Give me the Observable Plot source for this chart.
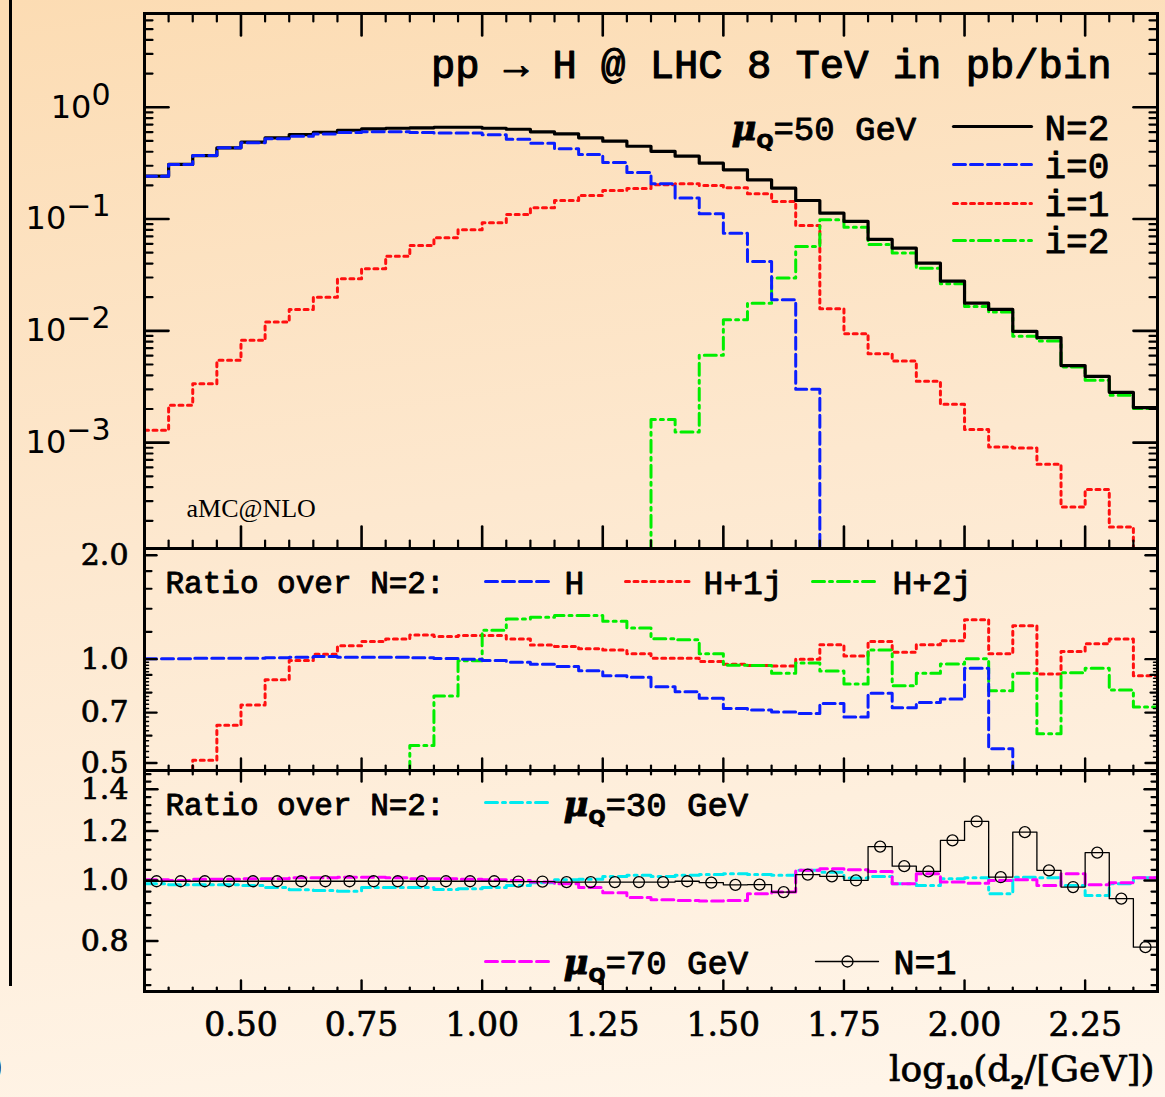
<!DOCTYPE html>
<html><head><meta charset="utf-8">
<script src="https://cdn.jsdelivr.net/npm/d3@7"></script>
<script src="https://cdn.jsdelivr.net/npm/@observablehq/plot@0.6"></script>
<style>
html,body{margin:0;padding:0;background:#fff6ea;}
#chart{position:relative;width:1165px;height:1097px;overflow:hidden;
 background: linear-gradient(172deg, #fcdcb3 0%, #fde8cf 45%, #fff6eb 100%);}
#chart svg{position:absolute;left:0;overflow:visible;}
.leftstrip{position:absolute;left:0;top:0;width:9px;height:986px;border-right:3px solid #000;}
.paren{position:absolute;left:-10px;top:1046px;font:34px "DejaVu Serif";color:#000;}
</style></head><body><div id="chart"><div class="leftstrip"></div><div class="paren">)</div></div>
<script>
// ---------- data ----------
const binEdges = [0.30,0.35,0.40,0.45,0.50,0.55,0.60,0.65,0.70,0.75,0.80,0.85,0.90,0.95,1.00,1.05,1.10,1.15,1.20,1.25,1.30,1.35,1.40,1.45,1.50,1.55,1.60,1.65,1.70,1.75,1.80,1.85,1.90,1.95,2.00,2.05,2.10,2.15,2.20,2.25,2.30,2.35,2.40];

// top panel: pb/bin (values 1e-6 = below the plotted range)
const n2 = [0.242,0.308,0.370,0.434,0.487,0.533,0.570,0.598,0.623,0.641,0.649,0.655,0.663,0.663,0.649,0.636,0.603,0.578,0.533,0.497,0.448,0.404,0.365,0.316,0.276,0.2245,0.189,0.1466,0.1129,0.0952,0.0657,0.0549,0.0403,0.0279,0.0177,0.01556,0.0099,0.0087,0.00489,0.00392,0.00282,0.00206];
const i0 = [0.242,0.308,0.370,0.434,0.481,0.522,0.551,0.578,0.594,0.603,0.603,0.594,0.590,0.590,0.567,0.518,0.477,0.425,0.378,0.320,0.261,0.207,0.154,0.1115,0.0748,0.0418,0.0190,0.0030,1e-6,null,null,null,null,null,null,null,null,null,null,null,null,null];
const i1 = [0.00129,0.00216,0.00337,0.00545,0.00823,0.0120,0.01556,0.0200,0.0293,0.0360,0.0466,0.0581,0.0681,0.0802,0.0927,0.1099,0.1262,0.1466,0.1625,0.1802,0.1877,0.2025,0.2067,0.1996,0.1904,0.1683,0.1437,0.0877,0.0158,0.00944,0.00625,0.00537,0.00354,0.0022,0.00131,0.000915,0.000897,0.000641,0.000266,0.000381,0.000176,1e-6];
const i2 = [null,null,null,null,null,null,null,null,null,null,null,null,null,null,null,null,null,null,null,null,1e-6,0.00161,0.001246,0.00604,0.0126,0.0177,0.02964,0.0569,0.0986,0.0847,0.0593,0.0496,0.0364,0.0264,0.01655,0.01472,0.00893,0.0081,0.00475,0.00361,0.00265,0.00202];

// middle panel: ratio over N=2 (0.01 = below the plotted range)
const ratioH   = [1.002,1.002,1.007,1.007,1.007,1.009,1.013,1.018,1.013,1.013,1.013,1.009,1.004,1.000,0.991,0.980,0.967,0.952,0.926,0.896,0.886,0.832,0.805,0.770,0.720,0.712,0.703,0.696,0.744,0.680,0.796,0.723,0.749,0.766,0.941,0.550,0.01,null,null,null,null,null];
const ratioH1j = [null,0.01,0.509,0.643,0.736,0.871,0.991,1.034,1.093,1.125,1.144,1.175,1.164,1.172,1.172,1.144,1.099,1.088,1.072,1.064,1.036,1.007,1.007,0.984,0.967,0.958,0.956,1.000,1.101,1.022,1.125,1.048,1.101,1.131,1.302,1.036,1.250,0.906,1.052,1.108,1.144,0.896];
const ratioH2j = [null,null,null,null,null,null,null,null,null,null,0.01,0.5625,0.782,0.989,1.212,1.308,1.323,1.338,1.338,1.287,1.232,1.146,1.138,1.036,0.961,0.958,0.910,0.974,0.924,0.847,1.064,0.838,0.910,0.969,1.002,0.810,0.910,0.608,0.914,0.941,0.814,0.727];

// bottom panel: ratio over N=2
const muQ30 = [0.988,0.984,0.984,0.984,0.982,0.974,0.966,0.964,0.961,0.974,0.974,0.974,0.967,0.970,0.974,0.982,0.992,1.003,1.004,1.015,1.019,1.015,1.019,1.022,1.025,1.022,1.019,1.038,1.031,1.009,1.015,0.988,0.982,1.006,1.010,0.952,1.012,1.010,0.982,0.946,0.988,1.010];
const muQ70 = [1.003,1.000,1.004,1.004,1.006,1.006,1.010,1.010,1.012,1.012,1.010,1.006,1.006,1.004,1.003,1.000,0.994,0.988,0.974,0.956,0.939,0.931,0.929,0.927,0.929,0.952,0.958,1.038,1.044,1.040,1.034,0.988,1.025,0.994,0.990,1.000,1.003,0.982,1.025,0.984,0.992,1.010];
const n1 = [0.997,0.997,0.997,0.997,0.997,0.997,0.997,0.997,0.997,0.997,0.997,0.997,0.997,0.997,0.997,0.996,0.996,0.994,0.994,0.994,0.994,0.994,0.997,0.992,0.984,0.985,0.958,1.022,1.015,1.000,1.133,1.054,1.034,1.159,1.243,1.012,1.195,1.038,0.976,1.108,0.935,0.782];

// ticks and labels
const xMajor = [0.50,0.75,1.00,1.25,1.50,1.75,2.00,2.25];
const xMajorLabels = ["0.50","0.75","1.00","1.25","1.50","1.75","2.00","2.25"];
const xMinor = [0.35,0.40,0.45,0.55,0.60,0.65,0.70,0.80,0.85,0.90,0.95,1.05,1.10,1.15,1.20,1.30,1.35,1.40,1.45,1.55,1.60,1.65,1.70,1.80,1.85,1.90,1.95,2.05,2.10,2.15,2.20,2.30,2.35];
const topYMajor = [1, 0.1, 0.01, 0.001];
const topYLabels = ["10{^0}","10{^−1}","10{^−2}","10{^−3}"];
const topDecades = [1e-4,1e-3,1e-2,1e-1,1];
const logMinorMult = [2,3,4,5,6,7,8,9];
const midYMajor = [2.0,1.0,0.7,0.5];
const midYLabels = ["2.0","1.0","0.7","0.5"];
const midYMedium = [1.8,1.6,1.4,1.2,0.9,0.8,0.6];
const midYTiny = [0.52,0.54,0.56,0.58,0.62,0.64,0.66,0.68,0.72,0.74,0.76,0.78,0.82,0.84,0.86,0.88,0.92,0.94,0.96,0.98];
const botYMajor = [1.4,1.2,1.0,0.8];
const botYLabels = ["1.4","1.2","1.0","0.8"];
const botYMinor = [0.68,0.72,0.76,0.84,0.88,0.92,0.96,1.04,1.08,1.12,1.16,1.24,1.28,1.32,1.36,1.44,1.48];

const topDomain = [1.13e-4, 6.9];
const midDomain = [0.4757, 2.093];
const botDomain = [0.664, 1.50];

// ---------- helpers ----------
const topYMinor = topDecades.flatMap(d => logMinorMult.map(m => d*m)).filter(v => v > topDomain[0] && v < topDomain[1]);
const steps = vals => binEdges.map((x, i) => ({x, y: i < vals.length ? vals[i] : vals[vals.length-1]}));
const centers = vals => vals.map((v, i) => ({x: (binEdges[i]+binEdges[i+1])/2, y: v}));
const tickShape = {draw(ctx, l) { ctx.moveTo(0, 0); ctx.lineTo(0, -l); }};
const tX = (vals, anchor, len, sw=2.2) => Plot.vector(vals, {x: d => d, frameAnchor: anchor, length: len, anchor: "start", rotate: anchor === "bottom" ? 0 : 180, shape: tickShape, stroke: "#000", strokeWidth: sw});
const tY = (vals, side, len, sw=2.2) => Plot.vector(vals, {y: d => d, frameAnchor: side, length: len, anchor: "start", rotate: side === "left" ? 90 : -90, shape: tickShape, stroke: "#000", strokeWidth: sw});
const hist = (vals, stroke, dash, sw=3) => Plot.line(steps(vals), {x: "x", y: "y", curve: "step-after", stroke, strokeWidth: sw, strokeDasharray: dash, clip: true});
const legLine = (dx, dy, len, stroke, dash, sw=3) => Plot.vector([0], {frameAnchor: "top-left", dx, dy, length: len, anchor: "start", rotate: 90, shape: tickShape, stroke, strokeWidth: sw, strokeDasharray: dash});
const label = (txt, dx, dy, size, family="Liberation Mono", anchor="start", frame="top-left", sw=0.9) => Plot.text([txt], {text: d => d, frameAnchor: frame, dx, dy, fontSize: size, fontFamily: family, textAnchor: anchor, lineAnchor: "middle", fill: "#000", stroke: "#000", strokeWidth: sw});

const DASH = "12,5", DOT = "4,4.5", DASHDOT = "12,5,3,5";
const BLUE = "#0a1eff", RED = "#ff1010", GREEN = "#00ee00", CYAN = "#00eaf0", MAGENTA = "#ff00ff";
const TICKFONT = "DejaVu Serif";
const base = {width: 1165, marginLeft: 144, marginRight: 8, style: {background: "transparent", overflow: "visible"}, x: {domain: [0.3, 2.4], axis: null}};

const SVGNS = "http://www.w3.org/2000/svg";
function richify(svg, o) {
  svg.querySelectorAll("text").forEach(el => {
    const s = el.textContent;
    if (!s.includes("{") && !s.includes("μ")) return;
    const parts = []; const re = /\{([_^])([^}]*)\}/g; let last = 0, m;
    while ((m = re.exec(s))) { if (m.index > last) parts.push({t: s.slice(last, m.index), k: ""}); parts.push({t: m[2], k: m[1]}); last = re.lastIndex; }
    if (last < s.length) parts.push({t: s.slice(last), k: ""});
    const out = [];
    for (const p of parts) {
      if (p.k === "" && p.t.includes("μ")) p.t.split(/(μ)/).filter(x => x).forEach(x => out.push({t: x, k: x === "μ" ? "mu" : ""}));
      else out.push(p);
    }
    el.textContent = "";
    let shift = 0;
    for (const p of out) {
      const ts = document.createElementNS(SVGNS, "tspan");
      const target = p.k === "^" ? -o.sup : p.k === "_" ? o.sub : 0;
      if (target !== shift) ts.setAttribute("dy", target - shift);
      shift = target;
      if (p.k === "^") ts.setAttribute("font-size", o.supSize);
      if (p.k === "_") { ts.setAttribute("font-size", o.subSize); ts.setAttribute("font-family", "DejaVu Sans"); ts.setAttribute("font-weight", "bold"); }
      if (p.k === "mu") { ts.setAttribute("font-family", "DejaVu Serif"); ts.setAttribute("font-style", "italic"); ts.setAttribute("font-weight", "bold"); }
      ts.textContent = p.t;
      el.appendChild(ts);
    }
  });
}

// ---------- top panel ----------
const topPlot = Plot.plot({...base, height: 549, marginTop: 13, marginBottom: 1,
  y: {type: "log", domain: topDomain, axis: null},
  marks: [
    hist(i1, RED, DOT),
    hist(i2, GREEN, DASHDOT),
    hist(n2, "#000", null, 3.2),
    hist(i0, BLUE, DASH),
    Plot.frame({stroke: "#000", strokeWidth: 3}),
    tX(xMajor, "bottom", 22, 2.6), tX(xMinor, "bottom", 8),
    tX(xMajor, "top", 22, 2.6), tX(xMinor, "top", 8),
    tY(topYMajor, "left", 24, 2.6), tY(topYMinor, "left", 8),
    tY(topYMajor, "right", 24, 2.6), tY(topYMinor, "right", 8),
    Plot.text(topYMajor.map((v, i) => ({v, t: topYLabels[i]})), {y: "v", text: "t", frameAnchor: "left", dx: -34, textAnchor: "end", lineAnchor: "middle", fontSize: 32, fontFamily: "DejaVu Sans", fill: "#000"}),
    label("pp → H @ LHC 8 TeV in pb/bin", -46, 52, 40.5, "Liberation Mono", "end", "top-right", 1.1),
    label("μ{_Q}=50 GeV", 587, 116, 34),
    legLine(809, 113, 78, "#000", null, 3.2),
    legLine(809, 151, 78, BLUE, DASH),
    legLine(809, 190, 78, RED, DOT),
    legLine(809, 227, 78, GREEN, DASHDOT),
    label("N=2", 900, 115, 36), label("i=0", 900, 153, 36), label("i=1", 900, 191, 36), label("i=2", 900, 228, 36),
    label("aMC@NLO", 42, 495, 26, "Liberation Serif", "start", "top-left", 0)
  ]});
topPlot.style.top = "0px";

// ---------- middle panel ----------
const midPlot = Plot.plot({...base, height: 223, marginTop: 0, marginBottom: 1,
  y: {type: "log", domain: midDomain, axis: null},
  marks: [
    hist(ratioH1j, RED, DOT),
    hist(ratioH2j, GREEN, DASHDOT),
    hist(ratioH, BLUE, DASH),
    Plot.frame({stroke: "#000", strokeWidth: 3}),
    tX(xMajor, "bottom", 12, 2.4), tX(xMinor, "bottom", 5),
    tY(midYMajor, "left", 12, 2.4), tY(midYMedium, "left", 7), tY(midYTiny, "left", 4, 1.5),
    tY(midYMajor, "right", 12, 2.4), tY(midYMedium, "right", 7), tY(midYTiny, "right", 4, 1.5),
    Plot.text(midYMajor.map((v, i) => ({v, t: midYLabels[i]})), {y: "v", text: "t", frameAnchor: "left", dx: -16, textAnchor: "end", lineAnchor: "middle", fontSize: 30, fontFamily: TICKFONT, fill: "#000", stroke: "#000", strokeWidth: 0.7}),
    label("Ratio over N=2:", 21, 35, 31),
    legLine(341, 33, 65, BLUE, DASH), label("H", 420, 35, 33),
    legLine(481, 33, 65, RED, DOT), label("H+1j", 559, 35, 33),
    legLine(668, 33, 66, GREEN, DASHDOT), label("H+2j", 748, 35, 33)
  ]});
midPlot.style.top = "548px";

// ---------- bottom panel ----------
const botPlot = Plot.plot({...base, height: 327, marginTop: 0, marginBottom: 106,
  y: {type: "log", domain: botDomain, axis: null},
  marks: [
    hist(muQ30, CYAN, DASHDOT),
    hist(muQ70, MAGENTA, DASH),
    hist(n1, "#000", null, 1.3),
    Plot.dot(centers(n1), {x: "x", y: "y", r: 5.5, stroke: "#000", strokeWidth: 1.3, fill: "none", clip: true}),
    Plot.frame({stroke: "#000", strokeWidth: 3}),
    tX(xMajor, "bottom", 11, 2.4), tX(xMinor, "bottom", 4),
    tX(xMajor, "top", 11, 2.4), tX(xMinor, "top", 4),
    tY(botYMajor, "left", 13, 2.4), tY(botYMinor, "left", 6),
    tY(botYMajor, "right", 13, 2.4), tY(botYMinor, "right", 6),
    Plot.text(botYMajor.map((v, i) => ({v, t: botYLabels[i]})), {y: "v", text: "t", frameAnchor: "left", dx: -16, textAnchor: "end", lineAnchor: "middle", fontSize: 30, fontFamily: TICKFONT, fill: "#000", stroke: "#000", strokeWidth: 0.7}),
    Plot.text(xMajor.map((v, i) => ({v, t: xMajorLabels[i]})), {x: "v", text: "t", frameAnchor: "bottom", dy: 34, lineAnchor: "middle", fontSize: 33, fontFamily: TICKFONT, fill: "#000", stroke: "#000", strokeWidth: 0.7}),
    label("log{_10}(d{_2}/[GeV])", -3, 78, 36, TICKFONT, "end", "bottom-right", 0.7),
    label("Ratio over N=2:", 21, 35, 31),
    legLine(341, 32, 65, CYAN, DASHDOT), label("μ{_Q}=30 GeV", 419, 35, 34),
    legLine(341, 191, 65, MAGENTA, DASH), label("μ{_Q}=70 GeV", 419, 193, 34),
    legLine(671, 191, 63, "#000", null, 1.3),
    Plot.dot([0], {frameAnchor: "top-left", dx: 703, dy: 191, r: 5.5, stroke: "#000", strokeWidth: 1.3, fill: "none"}),
    label("N=1", 749, 192, 35)
  ]});
botPlot.style.top = "770px";

const chart = document.getElementById("chart");
chart.appendChild(topPlot); chart.appendChild(midPlot); chart.appendChild(botPlot);
richify(topPlot, {sup: 13, sub: 8, supSize: 30, subSize: 20});
richify(midPlot, {sup: 12, sub: 8, supSize: 28, subSize: 20});
richify(botPlot, {sup: 12, sub: 8, supSize: 28, subSize: 20});
</script></body></html>
